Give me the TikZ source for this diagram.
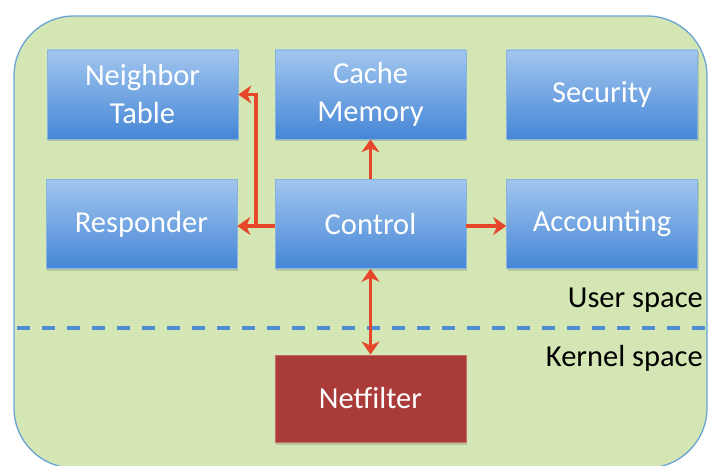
\documentclass[tikz,border=0pt]{standalone}
\usepackage{fontspec}
\setmainfont{Carlito}
\usetikzlibrary{arrows.meta,shadows}
\definecolor{bgreen}{HTML}{D3E6B3}
\definecolor{bborder}{HTML}{6AA3D6}
\definecolor{btop}{HTML}{A2C6EE}
\definecolor{bbot}{HTML}{4586D6}
\definecolor{nfred}{HTML}{A93B39}
\definecolor{nfborder}{HTML}{C46A63}
\definecolor{arrred}{HTML}{E6472B}
\definecolor{dashblue}{HTML}{4D8ED3}
\tikzset{
  blk/.style={draw=bborder!80!white, line width=0.6pt, top color=btop, bottom color=bbot,
    minimum width=191pt, minimum height=89pt, align=center, text=white,
    font=\fontsize{30.5}{38}\selectfont, inner sep=0pt,
    drop shadow={shadow xshift=1pt, shadow yshift=-2.5pt, opacity=0.25, fill=black!60}},
  redblk/.style={draw=nfborder, line width=1pt, fill=nfred,
    minimum width=191pt, minimum height=87pt, align=center, text=white,
    font=\fontsize{30.5}{38}\selectfont, inner sep=0pt,
    drop shadow={shadow xshift=1pt, shadow yshift=-2.5pt, opacity=0.25, fill=black!60}},
  arr/.style={draw=arrred, line width=3.6pt, -{Stealth[length=13pt,width=18pt,inset=4pt]}},
  arrtwo/.style={draw=arrred, line width=3.6pt, {Stealth[length=13pt,width=18pt,inset=4pt]}-{Stealth[length=13pt,width=18pt,inset=4pt]}},
  lbl/.style={anchor=east, text=black, font=\fontsize{30.5}{38}\selectfont, inner sep=0pt},
}
\begin{document}
\begin{tikzpicture}[x=1pt,y=-1pt]
\useasboundingbox (0,0) rectangle (708,465);
\fill[white] (0,0) rectangle (708,465);
\draw[draw=bborder, fill=bgreen, line width=1.3pt, rounded corners=60pt] (14,16) rectangle (707,468);

\node[blk] (nt) at (142.5,94.5) {Neighbor\\Table};
\node[blk] (cm) at (370.5,94.5) {Cache\\Memory};
\node[blk] (sec) at (602,94.5) {Security};
\node[blk] (resp) at (141.5,224) {Responder};
\node[blk] (ctrl) at (370.5,224) {Control};
\node[blk] (acc) at (602,224) {Accounting};
\node[redblk] (nf) at (370.5,398.5) {Netfilter};

\draw[dashblue, line width=3.2pt, dash pattern=on 13pt off 12pt] (17,328) -- (707,328);

\node[lbl] (us) at (703,300) {User space};
\node[lbl] (ks) at (703,358) {Kernel space};

\coordinate (j) at (256,226);
\draw[arr] (ctrl.west |- j) -- (resp.east |- j);
\draw[arr] (j) |- (nt.east);
\draw[arr] (ctrl.north) -- (cm.south);
\draw[arr] (ctrl.east |- j) -- (acc.west |- j);
\draw[arrtwo] (ctrl.south) -- (nf.north);
\end{tikzpicture}
\end{document}
